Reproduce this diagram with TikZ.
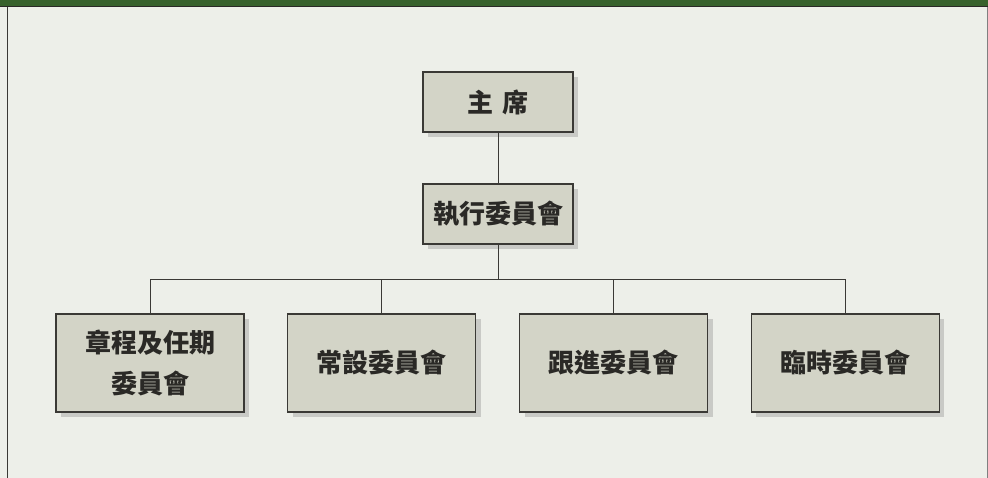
\documentclass[tikz,border=0pt]{standalone}
\usepackage{fontspec}
\newfontfamily\cjk{Noto Sans CJK TC}
\usetikzlibrary{shadows}
\definecolor{bargreen}{HTML}{38622C}
\definecolor{pagebg}{HTML}{EDEFE9}
\definecolor{boxfill}{HTML}{D3D4C7}
\definecolor{boxline}{HTML}{3A3935}
\definecolor{inktext}{HTML}{2A2926}
\definecolor{shadowgrey}{HTML}{C9CAC6}
\tikzset{
	every unit/.style={
		draw=boxline,
		line width=1.2pt,
		fill=boxfill,
		inner sep=0pt,
		align=center,
		text=inktext,
		font=\cjk\bfseries\fontsize{26}{41}\selectfont,
		drop shadow={shadow xshift=5pt, shadow yshift=-5pt, fill=shadowgrey, opacity=1}
	},
	unit top/.style={minimum width=150pt, minimum height=60pt},
	unit low/.style={minimum width=188pt, minimum height=98pt},
	link/.style={draw=boxline, line width=1pt},
}

\begin{document}
\begin{tikzpicture}[x=1pt, y=-1pt]

% frame
\useasboundingbox (0,0) rectangle (988,478);
\fill[pagebg] (0,0) rectangle (988,478);
\fill[bargreen] (0,0) rectangle (988,6);
\fill[inktext] (0,6) rectangle (988,7.5);
\fill[boxline] (6.5,7) rectangle (8.3,478);
\fill[gray] (987,7) rectangle (988,478);

\node [every unit/.try, unit top] (chair) at (498,102) {主\hspace{0.35em}席};
\node [every unit/.try, unit top] (exec) at (498,214) {執行委員會};

\foreach \l [count=\i] in {章程及任期\\委員會, 常設委員會, 跟進委員會, 臨時委員會}
	\node [every unit/.try, unit low] (comm-\i) at (150+231.8*\i-231.8,363) {\l};

\coordinate (bus) at (498,280);

\draw [link] (chair) -- (exec);
\draw [link] (exec) -- (bus);
\draw [link] (comm-1.north) -- (comm-1.north |- bus) -- (comm-4.north |- bus) -- (comm-4.north);
\foreach \i in {2,3}
	\draw [link] (comm-\i.north) -- (comm-\i.north |- bus);

\end{tikzpicture}
\end{document}
